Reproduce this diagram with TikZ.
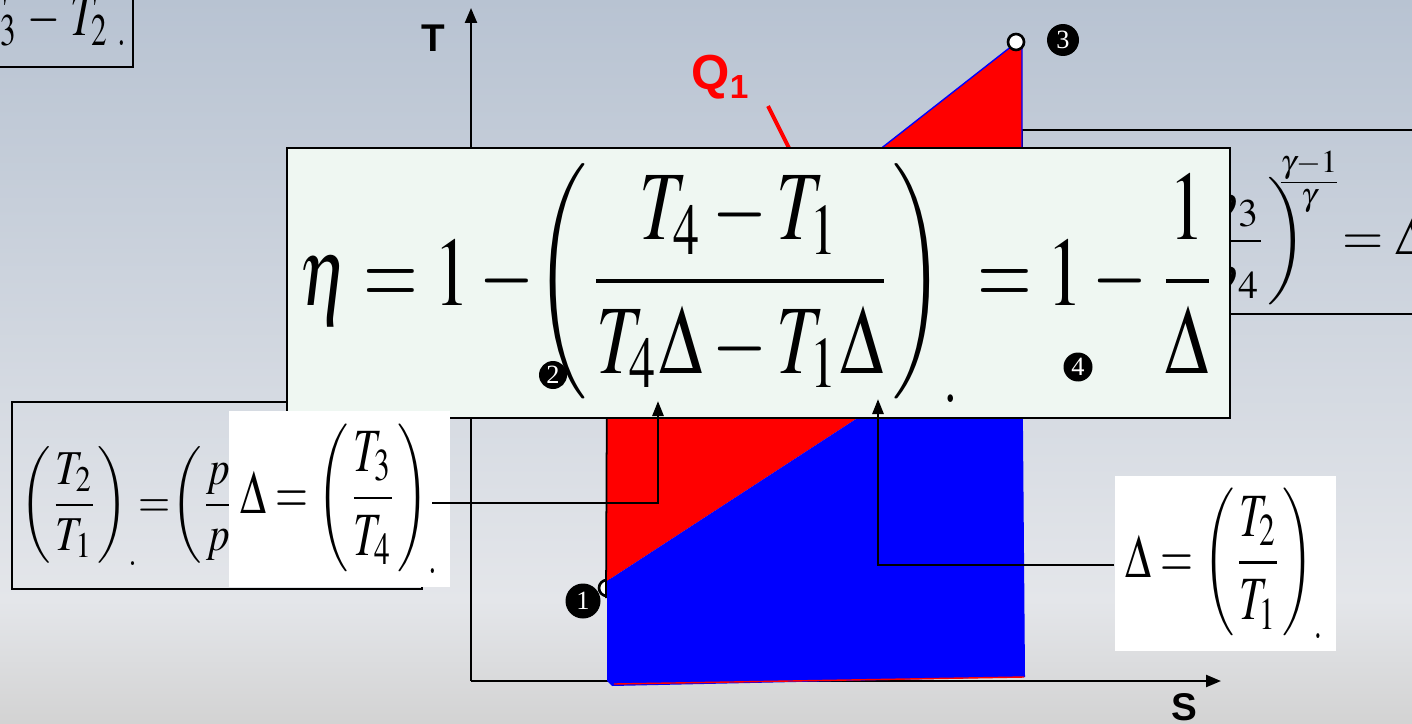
\documentclass[tikz,border=0pt]{standalone}
\usepackage{mathptmx}
\usepackage{graphicx}
\usepackage[no-math]{fontspec}
\setmainfont{Liberation Serif}
\setsansfont{Liberation Sans}
\usetikzlibrary{arrows.meta,positioning}

\definecolor{slidetop}{RGB}{184,195,210}
\definecolor{slidemid}{RGB}{228,230,234}
\definecolor{slidebot}{RGB}{211,211,211}
\definecolor{mint}{RGB}{239,247,242}

\newcommand{\fitmath}[3]{\resizebox*{#1}{#2}{$\displaystyle #3$}}

\tikzset{
  px/.style={x=0.02cm,y=-0.02cm},
  frame/.style={draw=black,line width=1pt},
  axis/.style={line width=1.3pt,-{Triangle[length=0.3cm,width=0.24cm]}},
  link/.style={line width=1.6pt,-{Triangle[length=0.3cm,width=0.22cm]}},
  stateno/.style={circle,fill=black,text=white,inner sep=0pt,font=\rmfamily\fontsize{15}{15}\selectfont},
  state/.style={circle,draw=black,fill=white,line width=1.5pt,inner sep=0pt,minimum size=0.32cm},
  axlabel/.style={font=\sffamily\bfseries\fontsize{22}{24}\selectfont},
  whitebox/.style={fill=white,inner xsep=0.22cm,inner ysep=0.26cm},
}

\begin{document}
\begin{tikzpicture}[px]
\useasboundingbox (0,0) rectangle (1412,723);
% slide background
\shade[top color=slidetop,bottom color=slidemid] (0,0) rectangle (1412,600);
\shade[top color=slidemid,bottom color=slidebot] (0,600) rectangle (1412,723);

% boxes behind
\draw[frame] (-10,-10) rectangle (133,67);
\node[anchor=base east,inner sep=0pt] (qin) at (127,36)
  {\scalebox{1}[1.45]{\fontsize{24}{28}\selectfont$T_3\,-\,T_2\;{}_{.}$}};
\draw[frame] (12,402) rectangle (422,589);
\node[anchor=west,inner sep=0pt] (adiab12) at (20,506)
  {\scalebox{0.85}[1]{\resizebox*{!}{2.37cm}{$\displaystyle\left(\frac{T_2}{T_1}\right)_{.}\mkern-4mu=\mkern-4mu\left(\frac{p_2}{p_1}\right)$}}};
\draw[frame] (1022,130) rectangle (1430,314);
\node[anchor=east,inner sep=0pt] (adiab34) at (1428,228)
  {\resizebox*{!}{3.06cm}{$\displaystyle\left(\frac{p_3}{p_4}\right)^{\kern-0.6em\frac{\gamma-1}{\gamma}}\kern-0.3em=\Delta$}};

% axes
\coordinate (O) at (471,681);
\coordinate (Tend) at (471,8);
\coordinate (Send) at (1221,681);
\draw[axis] (O) -- (Tend);
\draw[axis] (O) -- (Send);
\node[axlabel] (Tlab) at (433,38) {T};
\node[axlabel] (Slab) at (1184,707) {S};

% cycle
\coordinate (p1) at (607,581);
\coordinate (p2) at (607,363);
\coordinate (p3) at (1017,42);
\coordinate (p4) at (1022,311);
\node[state] (s1) at (607,588) {};
\fill[red] (p1) -- (p2) -- (p3) -- (1022,44) -- (p4) -- cycle;
\fill[blue] (p1) -- (p4) -- (1025,677) -- (612,686) -- (607,681) -- cycle;
\draw[red,line width=0.8pt] (614,684) -- (1024,677);
\draw[blue,line width=0.8pt] (p2) -- (p3) -- (1022,46) -- (p4);
\draw[line width=1pt] (606,598) -- (p2);
\node[state] (s3) at (1016,42) {};

% heat in
\node[text=red,font=\sffamily\bfseries\fontsize{28}{30}\selectfont] (qone) at (720,77)
  {Q\raisebox{-0.35ex}{\fontsize{19}{19}\selectfont 1}};
\coordinate (qa) at (768,106);
\coordinate (qb) at (793,156);
\draw[red,line width=2.2pt] (qa) -- (qb);

% efficiency
\node[frame,line width=1.3pt,fill=mint,minimum width=18.86cm,minimum height=5.4cm,inner sep=0pt] (eta) at (758.5,283)
  {\fitmath{18.36cm}{4.78cm}{\eta=1-\mkern-2mu\left(\frac{T_4-T_1}{T_4\Delta-T_1\Delta}\right)_{.}=1-\frac{1}{\Delta}}};
\node[stateno,minimum size=0.56cm] (n2) at (553,375) {2};
\node[stateno,minimum size=0.58cm] (n4) at (1078,367) {4};

% pressure ratio boxes
\node[whitebox] (dT34) at (339.5,499) {\fitmath{3.98cm}{3cm}{\Delta=\left(\frac{T_3}{T_4}\right)_{.}}};
\node[whitebox] (dT21) at (1225,563.5) {\fitmath{3.98cm}{3cm}{\Delta=\left(\frac{T_2}{T_1}\right)_{.}}};
\coordinate (tip1) at (658,401);
\coordinate (tip2) at (878,399);
\draw[link] ([xshift=-0.36cm,yshift=-0.08cm]dT34.east) -| (tip1);
\draw[link] ([yshift=-0.03cm]dT21.west) -| (tip2);

\node[stateno,minimum size=0.7cm] (n1) at (583,601) {1};
\node[stateno,minimum size=0.64cm] (n3) at (1063,40) {3};
\end{tikzpicture}
\end{document}
